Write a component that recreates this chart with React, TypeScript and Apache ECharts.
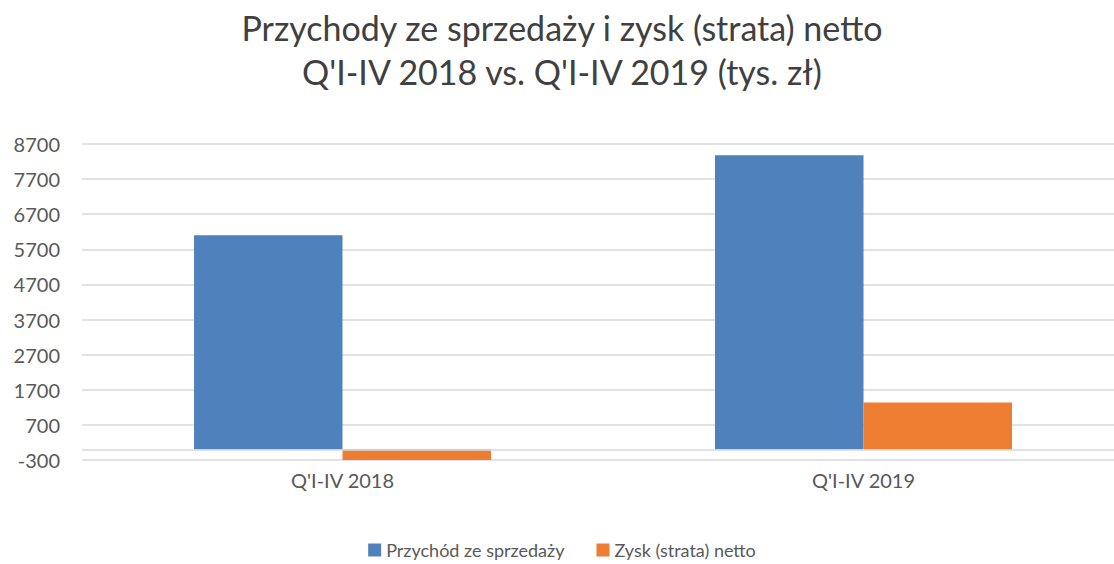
import React, { useEffect, useRef } from "react";
import * as echarts from "echarts";

const categories = ["Q'I-IV 2018", "Q'I-IV 2019"];
const revenue = [6100, 8380];
const netProfit = [-350, 1340];
const seriesNames = ["Przychód ze sprzedaży", "Zysk (strata) netto"];
const titleLines = ["Przychody ze sprzedaży i zysk (strata) netto", "Q'I-IV 2018 vs. Q'I-IV 2019 (tys. zł)"];

export default function App() {
  const ref = useRef<HTMLDivElement>(null);
  useEffect(() => {
    if (!ref.current) return;
    const chart = echarts.init(ref.current, undefined, { renderer: "svg" });
    const font = "Lato, 'Open Sans', sans-serif";
    chart.setOption({
      animation: false,
      textStyle: { fontFamily: font },
      title: {
        text: titleLines.join("\n"),
        left: "center",
        top: 0,
        textStyle: { fontFamily: font, fontSize: 34, fontWeight: "normal", color: "#404040", lineHeight: 44 },
      },
      legend: {
        bottom: 0,
        left: "center",
        itemWidth: 13,
        itemHeight: 13,
        itemGap: 32,
        icon: "rect",
        textStyle: { fontFamily: font, fontSize: 18, color: "#595959" },
        data: seriesNames,
      },
      grid: { left: 82, right: 0, top: 144, bottom: 104 },
      xAxis: {
        type: "category",
        data: categories,
        axisLine: { show: false, onZero: false },
        axisTick: { show: false },
        axisLabel: { fontFamily: font, fontSize: 20, color: "#595959", margin: 10 },
      },
      yAxis: {
        type: "value",
        min: -300,
        max: 8700,
        interval: 1000,
        axisLine: { show: false },
        axisTick: { show: false },
        axisLabel: {
          fontFamily: font,
          fontSize: 20,
          color: "#595959",
          margin: 22,
          formatter: (v: number) => String(v),
        },
        splitLine: { lineStyle: { color: "#d9d9d9", width: 1.5 } },
      },
      series: [
        {
          name: seriesNames[0],
          type: "bar",
          data: revenue,
          itemStyle: { color: "#4f81bd" },
          barGap: "0%",
          barCategoryGap: "43%",
          markLine: {
            silent: true,
            symbol: "none",
            label: { show: false },
            lineStyle: { color: "#d9d9d9", width: 1.5, type: "solid" },
            data: [{ yAxis: 0 }],
          },
        },
        {
          name: seriesNames[1],
          type: "bar",
          data: netProfit,
          itemStyle: { color: "#ed7d31" },
          barGap: "0%",
          barCategoryGap: "43%",
        },
      ],
    });
    return () => chart.dispose();
  }, []);
  return (
    <div style={{ position: "absolute", left: 0, top: 0, width: 1114, height: 564, overflow: "hidden" }}>
      <div ref={ref} style={{ width: 1124, height: 564 }} />
    </div>
  );
}
